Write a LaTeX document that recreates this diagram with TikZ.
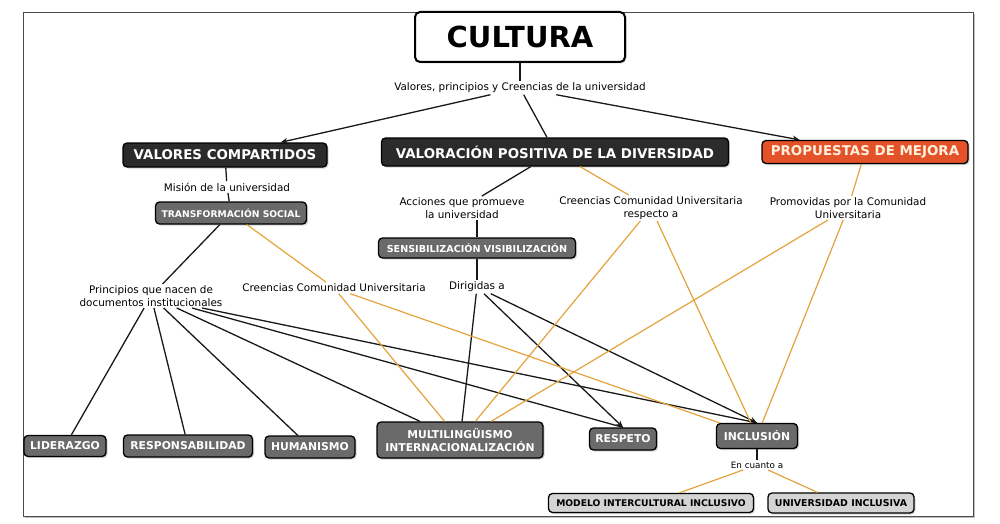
\documentclass[tikz,border=0pt]{standalone}
\usepackage{fontspec}
\setmainfont{DejaVu Sans}
\usetikzlibrary{arrows.meta,shadows}
\definecolor{darkbox}{HTML}{2B2B2B}
\definecolor{graybox}{HTML}{6A6A6A}
\definecolor{lightbox}{HTML}{D4D4D4}
\definecolor{orangebox}{HTML}{E4522A}
\definecolor{gold}{HTML}{E3A43C}
\begin{document}
\begin{tikzpicture}[x=1pt,y=-1pt,
  concept/.style={draw=black, line width=1.3pt, rounded corners=4pt, inner sep=0pt, align=center,
    drop shadow={shadow xshift=1.5pt,shadow yshift=-1.5pt,opacity=0.35}},
  topnode/.style={concept, fill=white, line width=2pt, rounded corners=5pt, text=black,
    font=\bfseries\fontsize{29}{32}\selectfont},
  darknode/.style={concept, fill=darkbox, text=white, font=\bfseries\fontsize{13.4}{15}\selectfont},
  orangenode/.style={concept, fill=orangebox, text={rgb,255:red,255;green,240;blue,220}, font=\bfseries\fontsize{13.4}{15}\selectfont},
  graysmall/.style={concept, fill=graybox, text=white, font=\bfseries\fontsize{9.2}{11}\selectfont},
  graynode/.style={concept, fill=graybox, text=white, font=\bfseries\fontsize{10.8}{13}\selectfont},
  lightnode/.style={concept, fill=lightbox, text=black, font=\bfseries\fontsize{9.2}{11}\selectfont},
  lbl/.style={align=center, inner sep=1.5pt, text=black, font=\fontsize{10.4}{12.5}\selectfont},
  blk/.style={draw=black!90, line width=1.3pt},
  gld/.style={draw=gold, line width=1.2pt},
  arr/.style={-{Stealth[length=7pt,width=6pt]}}
]
\useasboundingbox (0,0) rectangle (1000,524);
% frame
\fill[black!25] (25,14) rectangle (975,518);
\fill[white] (23,12) rectangle (973,516);
\draw[black!70, line width=0.8pt] (23,12) rectangle (973,516);

% concepts
\node[topnode, minimum width=210pt, minimum height=50pt] (cultura) at (520,37) {CULTURA};
\node[darknode, minimum width=204pt, minimum height=24pt] (vc) at (225,155) {VALORES COMPARTIDOS};
\node[darknode, minimum width=347pt, minimum height=28pt] (vp) at (555,152) {VALORACIÓN POSITIVA DE LA DIVERSIDAD};
\node[orangenode, minimum width=206pt, minimum height=23pt] (pm) at (865,152) {PROPUESTAS DE MEJORA};
\node[graysmall, minimum width=151pt, minimum height=22pt] (ts) at (231,213) {TRANSFORMACIÓN SOCIAL};
\node[graysmall, minimum width=197pt, minimum height=20pt, font=\bfseries\fontsize{9.6}{11}\selectfont] (sv) at (477,248) {SENSIBILIZACIÓN VISIBILIZACIÓN};
\node[graynode, minimum width=82pt, minimum height=21pt] (lid) at (65,446) {LIDERAZGO};
\node[graynode, minimum width=129pt, minimum height=22pt] (resp) at (188,446) {RESPONSABILIDAD};
\node[graynode, minimum width=90pt, minimum height=22pt] (hum) at (310,447) {HUMANISMO};
\node[graynode, minimum width=166pt, minimum height=36pt, font=\bfseries\fontsize{10.8}{13.5}\selectfont] (multi) at (460,440) {MULTILINGÜISMO\\INTERNACIONALIZACIÓN};
\node[graynode, minimum width=67pt, minimum height=22pt] (respeto) at (623,439) {RESPETO};
\node[graynode, minimum width=81pt, minimum height=25pt] (incl) at (757,436) {INCLUSIÓN};
\node[lightnode, minimum width=205pt, minimum height=19pt] (modelo) at (651,503) {MODELO INTERCULTURAL INCLUSIVO};
\node[lightnode, minimum width=146pt, minimum height=20pt, font=\bfseries\fontsize{9.4}{11}\selectfont] (univ) at (841,503) {UNIVERSIDAD INCLUSIVA};

% link labels
\node[lbl] (l1) at (520,88) {Valores, principios y Creencias de la universidad};
\node[lbl] (l2) at (227,187) {Misión de la universidad};
\node[lbl] (l3) at (151,296) {Principios que nacen de\\documentos institucionales};
\node[lbl] (l4) at (334,288) {Creencias Comunidad Universitaria};
\node[lbl] (l5) at (462,208) {Acciones que promueve\\la universidad};
\node[lbl] (l6) at (477,287) {Dirigidas a};
\node[lbl] (l7) at (651,208) {Creencias Comunidad Universitaria\\respecto a};
\node[lbl] (l8) at (848,208) {Promovidas por la Comunidad\\Universitaria};
\node[lbl, font=\fontsize{8.8}{10}\selectfont] (l9) at (757,465) {En cuanto a};

% black connectors
\draw[blk] (cultura) -- (l1);
\draw[blk, arr] (l1) -- (vc);
\draw[blk] (l1) -- (vp);
\draw[blk, arr] (l1) -- (pm);
\draw[blk] (vc) -- (l2);
\draw[blk] (l2) -- (ts);
\draw[blk] (ts) -- (l3);
\draw[blk] (l3) -- (lid);
\draw[blk] (l3) -- (resp);
\draw[blk] (l3) -- (hum);
\draw[blk] (l3) -- (multi);
\draw[blk] ([xshift=41pt]l3.south) -- (respeto.north);
\draw[blk] ([xshift=51pt]l3.south) -- (incl.north);
\draw[blk] (vp) -- (l5);
\draw[blk] (sv.north) -- (sv.north |- l5.south);
\draw[blk] (sv) -- (l6);
\draw[blk] (l6) -- (multi);
\draw[blk, arr] (l6) -- (respeto.north);
\draw[blk, arr] (l6) -- (incl.north);
\draw[blk] (incl) -- (l9);

% gold connectors
\draw[gld] (ts) -- (l4);
\draw[gld] (l4) -- (multi);
\draw[gld] (l4) -- (incl);
\draw[gld] (vp) -- (l7);
\draw[gld] (l7) -- (multi);
\draw[gld] (l7) -- (incl);
\draw[gld] (pm) -- (l8);
\draw[gld] (l8) -- (multi);
\draw[gld] (l8) -- (incl);
\draw[gld] (l9) -- (modelo);
\draw[gld] (l9) -- (univ);
\end{tikzpicture}
\end{document}
